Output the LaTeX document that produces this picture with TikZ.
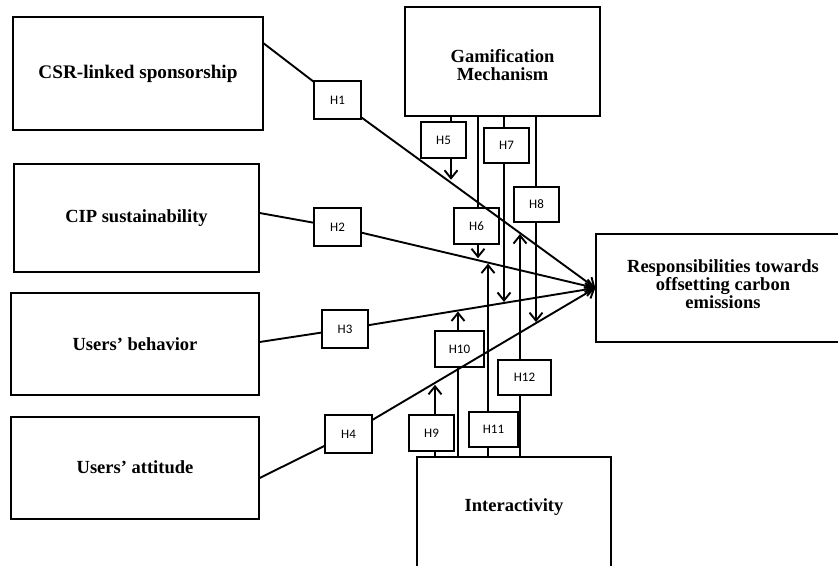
\documentclass[tikz,border=0pt]{standalone}
\usepackage{fontspec}
\setmainfont{Liberation Serif}
\newfontfamily\hfont{Carlito}
\usetikzlibrary{arrows.meta,intersections,calc}
\begin{document}
\begin{tikzpicture}[x=1pt,y=-1pt,
  bigbox/.style={draw,line width=1.3pt,inner sep=0pt,align=center,
    font=\fontsize{18.5}{18}\selectfont\bfseries},
  btext/.style={inner sep=0pt,align=center,
    font=\fontsize{18.5}{18}\selectfont\bfseries},
  hbox/.style={draw,line width=1.2pt,inner sep=0pt,fill=white,
    font=\fontsize{13}{15}\selectfont\hfont},
  conn/.style={line width=1.9pt},
  arr/.style={-{Straight Barb[length=8pt,width=13pt]}}]
\useasboundingbox (0,0) rectangle (838,565);
% main boxes
\node[bigbox,minimum width=250pt,minimum height=113pt,font=\fontsize{19.2}{18}\selectfont\bfseries] (csr) at (138,73.5) {CSR-linked sponsorship};
\node[bigbox,minimum width=245pt,minimum height=108pt] (cip) at (136.5,218) {\raisebox{3pt}{CIP sustainability}};
\node[bigbox,minimum width=248pt,minimum height=102pt] (beh) at (135,344) {Users' behavior};
\node[bigbox,minimum width=248pt,minimum height=102pt] (att) at (135,468) {\raisebox{1pt}{Users' attitude}};
\node[bigbox,minimum width=195pt,minimum height=109pt] (gam) at (502.5,61.5) {};
\node[btext] (gamt) at ([yshift=-4pt]gam.center) {Gamification\\Mechanism};
\node[bigbox,minimum width=194pt,minimum height=118pt] (inter) at (514,516) {};
\node[btext] (intert) at ([yshift=9pt]inter.center) {Interactivity};
\node[bigbox,minimum width=254pt,minimum height=108pt] (resp) at (723,288) {};
\node[btext] (respt) at ([yshift=4pt]resp.center) {Responsibilities towards\\offsetting carbon\\emissions};
% hypothesis boxes
\node[hbox,minimum width=47pt,minimum height=38pt] (h1) at (337.5,100) {H1};
\node[hbox,minimum width=47pt,minimum height=38pt] (h2) at (337.5,227) {H2};
\node[hbox,minimum width=46pt,minimum height=38pt] (h3) at (345,329) {H3};
\node[hbox,minimum width=47pt,minimum height=38pt] (h4) at (348.5,434) {H4};
\node[hbox,minimum width=45pt,minimum height=36pt] (h5) at (443.5,140) {H5};
\node[hbox,minimum width=45pt,minimum height=36pt] (h6) at (476.5,226) {H6};
\node[hbox,minimum width=45pt,minimum height=35pt] (h7) at (506.5,145.5) {H7};
\node[hbox,minimum width=45pt,minimum height=35pt] (h8) at (536.5,204.5) {H8};
\node[hbox,minimum width=45pt,minimum height=36pt] (h9) at (431.5,433) {H9};
\node[hbox,minimum width=49pt,minimum height=36pt] (h10) at (459.5,349) {H10};
\node[hbox,minimum width=49pt,minimum height=35pt] (h11) at (493.5,429.5) {H11};
\node[hbox,minimum width=53pt,minimum height=35pt] (h12) at (524.5,377.5) {H12};
% x positions of the vertical links
\coordinate (x5) at (451,0);
\coordinate (x6) at (478,0);
\coordinate (x7) at (504,0);
\coordinate (x8) at (536,0);
\coordinate (x9) at (435,0);
\coordinate (x10) at (458,0);
\coordinate (x11) at (488,0);
\coordinate (x12) at (520,0);
% main paths
\draw[conn] ([yshift=-27pt]csr.north east) -- (h1);
\draw[conn,arr,name path=l1] (h1) -- (resp.west);
\draw[conn] ([yshift=5pt]cip.east) -- (h2);
\draw[conn,arr,name path=l2] (h2) -- (resp.west);
\draw[conn] ([yshift=2pt]beh.east) -- (h3);
\draw[conn,arr,name path=l3] (h3) -- (resp.west);
\draw[conn] ([yshift=-10pt]att.east) -- (h4);
\draw[conn,arr,name path=l4] (h4) -- (resp.west);
% moderators from gamification (downwards)
\draw[conn] (gam.south -| x5) -- (h5.north -| x5);
\draw[conn] (gam.south -| x6) -- (h6.north -| x6);
\draw[conn] (gam.south -| x7) -- (h7.north -| x7);
\draw[conn] (gam.south -| x8) -- (h8.north -| x8);
\path[name path=v5] (h5.south -| x5) -- ++(0,250);
\path[name path=v6] (h6.south -| x6) -- ++(0,250);
\path[name path=v7] (h7.south -| x7) -- ++(0,250);
\path[name path=v8] (h8.south -| x8) -- ++(0,250);
\path[name intersections={of=l1 and v5,by=t5}];
\path[name intersections={of=l2 and v6,by=t6}];
\path[name intersections={of=l3 and v7,by=t7}];
\path[name intersections={of=l4 and v8,by=t8}];
\draw[conn,arr] (h5.south -| x5) -- ([yshift=3pt]t5);
\draw[conn,arr] (h6.south -| x6) -- ([yshift=2pt]t6);
\draw[conn,arr] (h7.south -| x7) -- ([yshift=1pt]t7);
\draw[conn,arr] (h8.south -| x8) -- ([yshift=1pt]t8);
% moderators from interactivity (upwards)
\draw[conn] (inter.north -| x9) -- (h9.south -| x9);
\draw[conn] (inter.north -| x10) -- (h10.south -| x10);
\draw[conn] ([yshift=-2pt]inter.north -| x11) -- (h11.south -| x11);
\draw[conn] (inter.north -| x12) -- (h12.south -| x12);
\path[name path=v9] (h9.north -| x9) -- ++(0,-250);
\path[name path=v10] (h10.north -| x10) -- ++(0,-250);
\path[name path=v11] (h11.north -| x11) -- ++(0,-250);
\path[name path=v12] (h12.north -| x12) -- ++(0,-250);
\path[name intersections={of=l4 and v9,by=t9}];
\path[name intersections={of=l3 and v10,by=t10}];
\path[name intersections={of=l2 and v11,by=t11}];
\path[name intersections={of=l1 and v12,by=t12}];
\draw[conn,arr] (h9.north -| x9) -- ([yshift=-2pt]t9);
\draw[conn,arr] (h10.north -| x10) -- ([yshift=-1pt]t10);
\draw[conn,arr] (h11.north -| x11) -- ([yshift=-1pt]t11);
\draw[conn,arr] (h12.north -| x12) -- ([yshift=-1pt]t12);
\end{tikzpicture}
\end{document}
